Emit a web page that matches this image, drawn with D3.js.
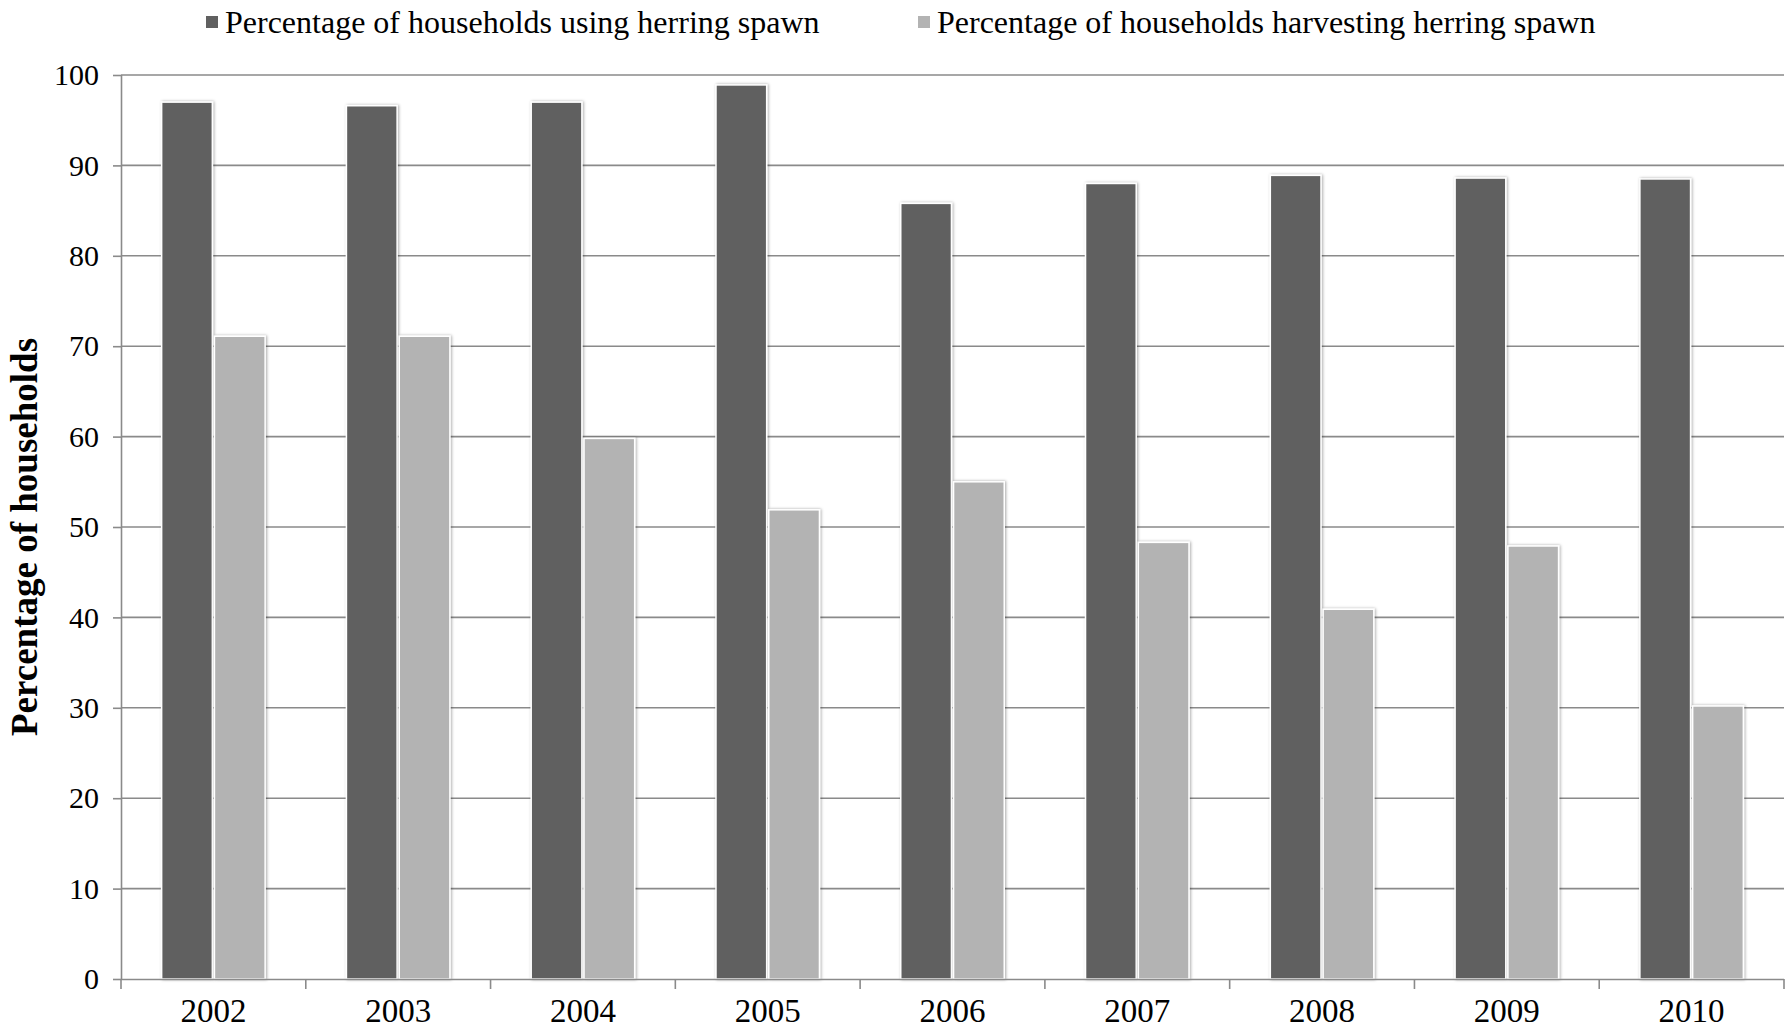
<!DOCTYPE html>
<html>
<head>
<meta charset="utf-8">
<script src="https://cdn.jsdelivr.net/npm/d3@7"></script>
<style>
  html, body { margin: 0; padding: 0; background: #fff; }
  svg { display: block; }
  text { font-family: "Liberation Serif", "Times New Roman", serif; fill: #000; }
</style>
</head>
<body>
<svg id="chart" width="1792" height="1034"></svg>
<script>
// Survey years
const years = ["2002", "2003", "2004", "2005", "2006", "2007", "2008", "2009", "2010"];
// Series names
const seriesNames = [
  "Percentage of households using herring spawn",
  "Percentage of households harvesting herring spawn"
];
// Share of households (%) per year
const usingValues = [97.0, 96.6, 97.0, 98.9, 85.8, 88.0, 88.9, 88.6, 88.5];
const harvestingValues = [71.1, 71.1, 59.8, 51.9, 55.0, 48.3, 40.9, 47.9, 30.2];
// Y-axis ticks
const yTicks = [0, 10, 20, 30, 40, 50, 60, 70, 80, 90, 100];
const seriesColors = ["#606060", "#b3b3b3"];

const svg = d3.select("#chart");
const margin = { left: 121, right: 1792 - 1784, top: 75, bottom: 1034 - 979 };
const W = 1792, H = 1034;
const innerW = W - margin.left - margin.right;
const innerH = H - margin.top - margin.bottom;

// Soft shadow around each bar
const defs = svg.append("defs");
const f = defs.append("filter").attr("id", "barShadow")
  .attr("x", "-20%").attr("y", "-5%").attr("width", "140%").attr("height", "110%");
f.append("feDropShadow").attr("dx", 1).attr("dy", 0).attr("stdDeviation", 1.6)
  .attr("flood-color", "#000").attr("flood-opacity", 0.35);

const g = svg.append("g").attr("transform", `translate(${margin.left},${margin.top})`);

const x0 = d3.scaleBand().domain(years).range([0, innerW]).paddingInner(0).paddingOuter(0);
const bw = x0.bandwidth();
const x1 = d3.scaleBand().domain([0, 1]).range([bw * 0.22, bw * 0.78]).paddingInner(0.04);
const y = d3.scaleLinear().domain([0, 100]).range([innerH, 0]);

// Horizontal gridlines
g.append("g").selectAll("line").data(yTicks.filter(d => d > 0)).join("line")
  .attr("x1", 0).attr("x2", innerW)
  .attr("y1", d => y(d)).attr("y2", d => y(d))
  .attr("stroke", "#8a8a8a").attr("stroke-width", 1.6);

// Y axis
const yAxis = g.append("g").call(
  d3.axisLeft(y).tickValues(yTicks).tickSize(8).tickPadding(14).tickFormat(d3.format("d"))
);
yAxis.select(".domain").attr("stroke", "#8a8a8a").attr("stroke-width", 1.6)
  .attr("d", `M0.5,${innerH}V0`);
yAxis.selectAll(".tick line").attr("stroke", "#8a8a8a").attr("stroke-width", 1.6);
yAxis.selectAll(".tick text").attr("font-size", 30).attr("font-family", "Liberation Serif").attr("fill", "#000");

// Bars
const rows = years.map((yr, i) => ({ year: yr, vals: [usingValues[i], harvestingValues[i]] }));
const groups = g.append("g").selectAll("g").data(rows).join("g")
  .attr("transform", d => `translate(${x0(d.year)},0)`);
groups.selectAll("rect").data(d => d.vals.map((v, k) => ({ k, v }))).join("rect")
  .attr("x", d => x1(d.k))
  .attr("width", x1.bandwidth())
  .attr("y", d => y(d.v))
  .attr("height", d => innerH - y(d.v))
  .attr("fill", d => seriesColors[d.k])
  .attr("stroke", "#fff").attr("stroke-width", 1.5)
  .attr("filter", "url(#barShadow)");

// X axis
const xAxis = g.append("g").attr("transform", `translate(0,${innerH})`)
  .call(d3.axisBottom(x0).tickSize(0).tickPadding(20));
xAxis.select(".domain").attr("stroke", "#8a8a8a").attr("stroke-width", 1.6)
  .attr("d", `M0,0.5H${innerW}`);
xAxis.selectAll(".tick text").attr("font-size", 33).attr("font-family", "Liberation Serif").attr("fill", "#000");
// Category boundary ticks
g.append("g").selectAll("line").data(d3.range(years.length + 1)).join("line")
  .attr("x1", i => i * bw).attr("x2", i => i * bw)
  .attr("y1", innerH).attr("y2", innerH + 10)
  .attr("stroke", "#8a8a8a").attr("stroke-width", 1.6);

// Y-axis title
svg.append("text")
  .attr("transform", `translate(37,${margin.top + innerH / 2 + 10}) rotate(-90)`)
  .attr("text-anchor", "middle")
  .attr("font-size", 37).attr("font-weight", "bold")
  .text("Percentage of households");

// Legend
const legendX = [206, 918];
const leg = svg.append("g").selectAll("g").data(seriesNames).join("g")
  .attr("transform", (d, i) => `translate(${legendX[i]},22)`);
leg.append("rect").attr("x", 0).attr("y", -6).attr("width", 12).attr("height", 12)
  .attr("fill", (d, i) => seriesColors[i]);
leg.append("text").attr("x", 19).attr("y", 0).attr("dy", "0.35em")
  .attr("font-size", 32).text(d => d);
</script>
</body>
</html>
